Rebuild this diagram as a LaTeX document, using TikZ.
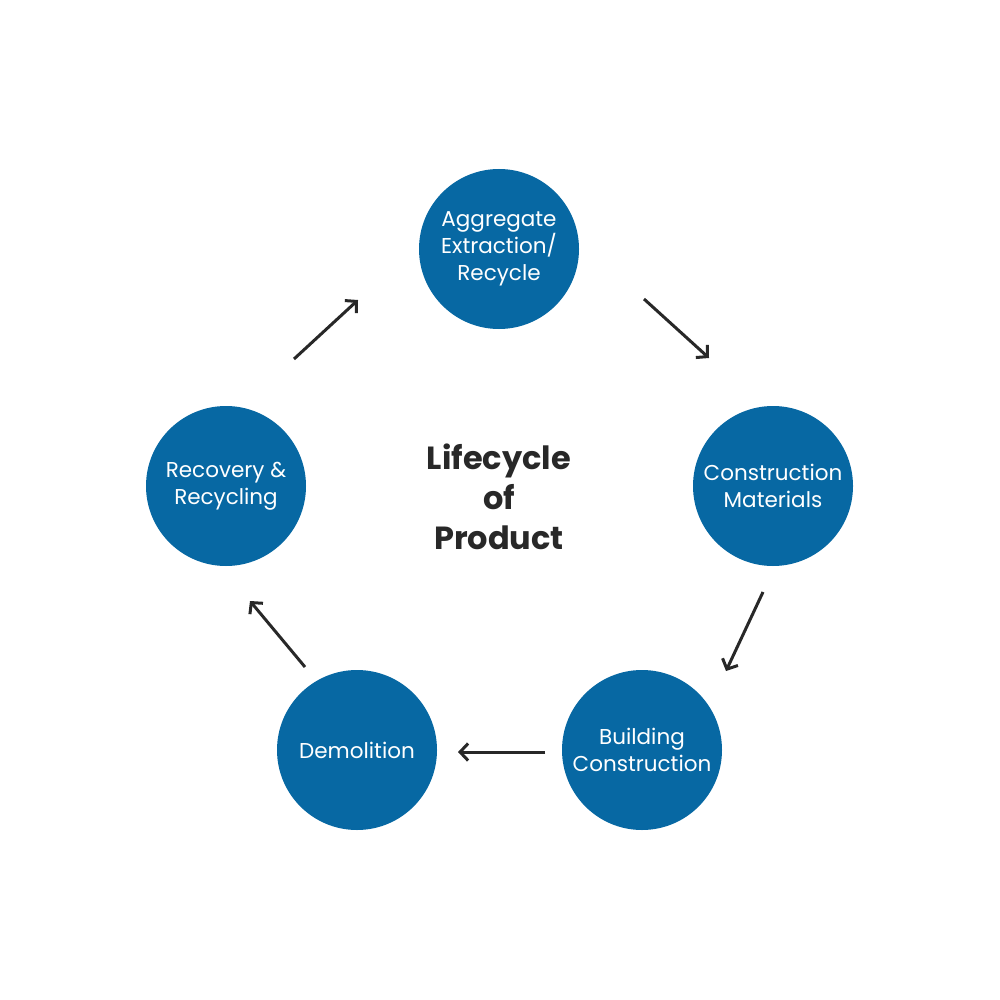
\documentclass[tikz,border=0pt]{standalone}
\usepackage{fontspec}
\setmainfont{Poppins}
\usetikzlibrary{arrows.meta,positioning}
\definecolor{stageblue}{RGB}{7,104,163}
\definecolor{inkgrey}{RGB}{40,40,40}

\tikzset{
  stage/.style={circle,fill=stageblue,minimum size=160pt,inner sep=0pt,
    text=white,align=center,font=\fontsize{21.5}{27}\selectfont},
  flow/.style={draw=inkgrey,line width=3pt,
    -{Straight Barb[length=8pt,width=17pt,line width=3pt]}}
}

\begin{document}
\begin{tikzpicture}[x=1pt,y=-1pt]
      \useasboundingbox[fill=white] (0,0) rectangle (1000,1000);
      % stages of the cycle
      \node[stage] (extract) at (499,249) {Aggregate\\Extraction/\\Recycle};
      \node[stage] (material) at (773,486) {Construction\\Materials};
      \node[stage] (build) at (642,750) {Building\\Construction};
      \node[stage] (demol) at (357,750) {Demolition};
      \node[stage] (recover) at (226,486) {Recovery \&\\Recycling};
      \node[align=center,text=inkgrey,font=\fontsize{32}{40}\selectfont\bfseries]
        (title) at (499,497) {Lifecycle\\of\\Product};
      % arrow ends
      \coordinate (a1) at (294,359); \coordinate (b1) at (358,300);
      \coordinate (a2) at (644,299); \coordinate (b2) at (709,358);
      \coordinate (a3) at (763,592); \coordinate (b3) at (726,671);
      \coordinate (a4) at (545,752); \coordinate (b4) at (458,752);
      \coordinate (a5) at (305,667); \coordinate (b5) at (250,601);
      \draw[flow] (a1) -- (b1);
      \draw[flow] (a2) -- (b2);
      \draw[flow] (a3) -- (b3);
      \draw[flow] (a4) -- (b4);
      \draw[flow] (a5) -- (b5);
\end{tikzpicture}
\end{document}
